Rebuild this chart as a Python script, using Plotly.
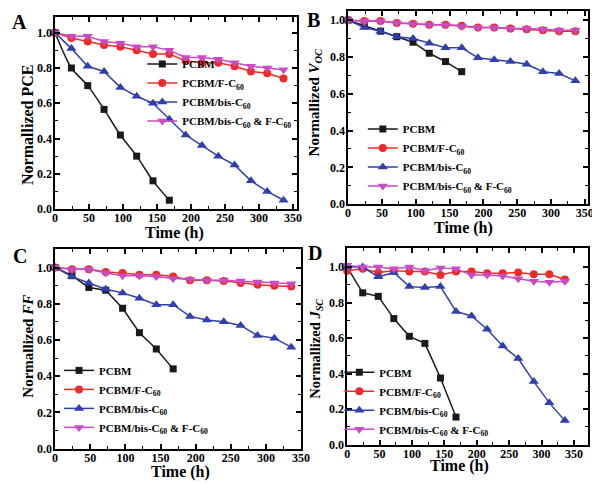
import plotly.graph_objects as go

# ---------------- data ----------------
t_pcbm = [0, 24, 48, 72, 96, 120, 144, 168]
t_all = [0, 24, 48, 72, 96, 120, 144, 168, 192, 216, 240, 264, 288, 312, 336]

series_names = ["PCBM", "PCBM/F-C<sub>60</sub>", "PCBM/bis-C<sub>60</sub>",
                "PCBM/bis-C<sub>60</sub> &amp; F-C<sub>60</sub>"]

# Panel A: Normalized PCE
pce_pcbm = [1.0, 0.80, 0.70, 0.565, 0.42, 0.30, 0.16, 0.05]
pce_f = [1.0, 0.97, 0.95, 0.93, 0.92, 0.90, 0.88, 0.88, 0.84, 0.83, 0.83, 0.81, 0.78, 0.77, 0.74]
pce_bis = [1.0, 0.91, 0.81, 0.78, 0.69, 0.64, 0.60, 0.51, 0.42, 0.36, 0.30, 0.25, 0.16, 0.10, 0.05]
pce_both = [1.0, 0.98, 0.98, 0.95, 0.94, 0.92, 0.92, 0.90, 0.86, 0.86, 0.85, 0.83, 0.81, 0.80, 0.79]

# Panel B: Normalized Voc
voc_pcbm = [1.0, 0.97, 0.94, 0.91, 0.88, 0.82, 0.775, 0.72]
voc_f = [1.0, 0.995, 0.995, 0.985, 0.98, 0.975, 0.975, 0.97, 0.96, 0.96, 0.955, 0.95, 0.945, 0.94, 0.94]
voc_bis = [1.0, 0.96, 0.94, 0.91, 0.90, 0.875, 0.85, 0.85, 0.795, 0.785, 0.775, 0.76, 0.72, 0.71, 0.67]
voc_both = [1.0, 0.995, 0.995, 0.985, 0.98, 0.975, 0.975, 0.965, 0.96, 0.96, 0.955, 0.955, 0.95, 0.945, 0.945]

# Panel C: Normalized FF
ff_pcbm = [1.0, 0.955, 0.89, 0.875, 0.775, 0.64, 0.55, 0.44]
ff_f = [1.0, 0.99, 0.99, 0.975, 0.97, 0.96, 0.96, 0.95, 0.93, 0.93, 0.925, 0.915, 0.905, 0.90, 0.895]
ff_bis = [1.0, 0.95, 0.915, 0.88, 0.86, 0.83, 0.795, 0.795, 0.73, 0.71, 0.70, 0.68, 0.625, 0.61, 0.56]
ff_both = [1.0, 0.99, 0.99, 0.97, 0.955, 0.955, 0.95, 0.94, 0.935, 0.93, 0.93, 0.925, 0.92, 0.915, 0.91]

# Panel D: Normalized Jsc
jsc_pcbm = [1.0, 0.855, 0.835, 0.71, 0.61, 0.57, 0.375, 0.155]
jsc_f = [0.98, 0.99, 0.97, 0.98, 0.975, 0.975, 0.955, 0.975, 0.975, 0.965, 0.965, 0.97, 0.96, 0.96, 0.93]
jsc_bis = [1.0, 1.0, 0.945, 0.97, 0.89, 0.885, 0.89, 0.75, 0.725, 0.65, 0.555, 0.485, 0.355, 0.235, 0.135]
jsc_both = [1.01, 1.0, 1.0, 0.99, 1.0, 0.98, 0.995, 0.99, 0.955, 0.955, 0.95, 0.935, 0.92, 0.915, 0.92]

x_ticks = [0, 50, 100, 150, 200, 250, 300, 350]
y_ticks = [0.0, 0.2, 0.4, 0.6, 0.8, 1.0]

# ---------------- styles ----------------
W, H = 600, 483
FONT = "Liberation Serif"
colors = ["#1a1a1a", "#ee2b2b", "#2f3fae", "#c84bc4"]
symbols = ["square", "circle", "triangle-up", "triangle-down"]
msizes = [7, 8, 9, 9]

def px(x):
    return x / W

def py(y):
    return 1 - y / H

panels = [
    dict(key="", data=[pce_pcbm, pce_f, pce_bis, pce_both], box=(45, 292, 9, 204),
         xr=[0, 356], yr=[0, 1.09], smooth=True,
         ytitle="Normallized PCE", ysize=16, letter="A", letter_xy=(9, 14),
         ytitle_xy=(17, 119), xtitle_xy=(167, 228), legend_xy=(134, 42)),
    dict(key="2", data=[voc_pcbm, voc_f, voc_bis, voc_both], box=(344, 589, 3, 199),
         xr=[0, 355], yr=[0, 1.05], smooth=False,
         ytitle="Normallized <i>V</i><sub><i>OC</i></sub>", ysize=15, letter="B", letter_xy=(309, 12),
         ytitle_xy=(310, 95), xtitle_xy=(462, 223), legend_xy=(359, 108)),
    dict(key="3", data=[ff_pcbm, ff_f, ff_bis, ff_both], box=(45, 296, 245, 447),
         xr=[0, 350], yr=[0, 1.10], smooth=False,
         ytitle="Normallized <i>FF</i>", ysize=15, letter="C", letter_xy=(9, 252),
         ytitle_xy=(17, 343), xtitle_xy=(173, 471), legend_xy=(49, 353)),
    dict(key="4", data=[jsc_pcbm, jsc_f, jsc_bis, jsc_both], box=(343, 589, 244, 443),
         xr=[0, 372], yr=[0, 1.105], smooth=False,
         ytitle="Normallized <i>J</i><sub><i>SC</i></sub>", ysize=14.5, letter="D", letter_xy=(310, 249),
         ytitle_xy=(311, 346), xtitle_xy=(458, 465), legend_xy=(335, 355)),
]

fig = go.Figure()
annotations = []
layout = dict(
    width=W, height=H, margin=dict(l=0, r=0, t=0, b=0),
    paper_bgcolor="white", plot_bgcolor="white",
    font=dict(family=FONT, color="black"),
)

for i, p in enumerate(panels):
    k = p["key"]
    xa = "x" + k
    ya = "y" + k
    for j in range(4):
        xs = t_pcbm if j == 0 else t_all
        shape = "spline" if (p["smooth"] and j == 0) else "linear"
        fig.add_trace(go.Scatter(
            x=xs, y=p["data"][j], xaxis=xa, yaxis=ya,
            mode="lines+markers", name=series_names[j],
            line=dict(color=colors[j], width=1.5, shape=shape, smoothing=0.8),
            marker=dict(symbol=symbols[j], size=msizes[j], color=colors[j]),
            cliponaxis=False,
            legend="legend" + k,
        ))
    x0, x1, y0, y1 = p["box"]
    axis_common = dict(
        showline=True, linecolor="black", linewidth=1.5, mirror="ticks",
        ticks="inside", ticklen=5, tickwidth=1.5, tickcolor="black",
        showgrid=False, zeroline=False,
        tickfont=dict(family=FONT, size=12, color="black", weight="bold"),
    )
    layout["xaxis" + k] = dict(
        axis_common, domain=[px(x0), px(x1)], range=p["xr"], anchor=ya,
        tickvals=x_ticks, ticktext=[str(v) for v in x_ticks],
        ticklabelstandoff=-3,
        minor=dict(dtick=25, tick0=0, ticks="inside", ticklen=3, tickcolor="black", tickwidth=1.2),
    )
    layout["yaxis" + k] = dict(
        axis_common, domain=[py(y1), py(y0)], range=p["yr"], anchor=xa,
        tickvals=y_ticks, ticktext=["%.1f" % v for v in y_ticks],
        ticklabelstandoff=-1,
        minor=dict(dtick=0.1, tick0=0, ticks="inside", ticklen=3, tickcolor="black", tickwidth=1.2),
    )
    lx, ly = p["legend_xy"]
    layout["legend" + k] = dict(
        x=px(lx), y=py(ly), xanchor="left", yanchor="top",
        bgcolor="rgba(0,0,0,0)", borderwidth=0, tracegroupgap=0,
        font=dict(family=FONT, size=11, color="black", weight="bold"),
    )
    # panel letter
    annotations.append(dict(
        text="<b>%s</b>" % p["letter"], x=px(p["letter_xy"][0]), y=py(p["letter_xy"][1]),
        xref="paper", yref="paper", showarrow=False, xanchor="center", yanchor="middle",
        font=dict(family=FONT, size=20, color="black"),
    ))
    # y title
    annotations.append(dict(
        text="<b>%s</b>" % p["ytitle"], x=px(p["ytitle_xy"][0]), y=py(p["ytitle_xy"][1]),
        xref="paper", yref="paper", showarrow=False, xanchor="center", yanchor="middle",
        textangle=-90, font=dict(family=FONT, size=p["ysize"], color="black"),
    ))
    # x title
    annotations.append(dict(
        text="<b>Time (h)</b>", x=px(p["xtitle_xy"][0]), y=py(p["xtitle_xy"][1]),
        xref="paper", yref="paper", showarrow=False, xanchor="center", yanchor="middle",
        font=dict(family=FONT, size=16, color="black"),
    ))

layout["annotations"] = annotations
fig.update_layout(**layout)
fig.write_html("out.html")
